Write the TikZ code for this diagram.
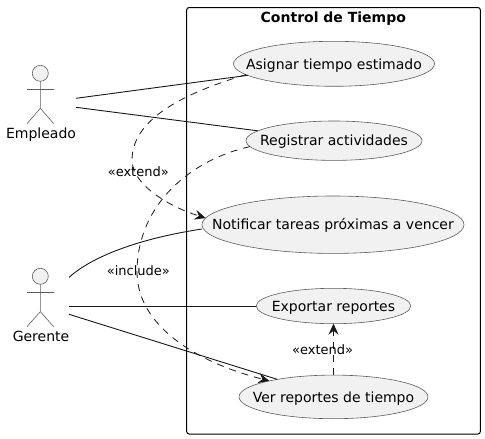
\documentclass[tikz,border=0pt]{standalone}
\usepackage{fontspec}
\setmainfont{DejaVu Sans}
\usetikzlibrary{shapes.geometric,arrows.meta}
\definecolor{ink}{HTML}{181818}
\definecolor{pale}{HTML}{F1F1F1}
\newcommand{\ectext}[1]{\makebox[0pt]{#1}}
\tikzset{
  usecase/.style={ellipse,draw=ink!70,fill=pale,line width=0.6pt,inner sep=0pt,outer sep=0pt,
    text=black,font=\fontsize{14}{16}\selectfont,text height=13.5pt,text depth=3pt},
  sysframe/.style={rectangle,draw=black,line width=1pt,rounded corners=2.5pt,inner sep=0pt,outer sep=0pt},
  actorhead/.style={circle,draw=ink!70,fill=pale,line width=0.6pt,minimum size=16pt,inner sep=0pt,outer sep=0pt},
  actorbody/.style={draw=ink!70,line width=0.6pt},
  actorname/.style={font=\fontsize{14}{16}\selectfont,inner sep=0pt,anchor=base},
  assoc/.style={draw=ink,line width=0.9pt},
  dep/.style={draw=ink,line width=0.8pt,dash pattern=on 7pt off 6pt},
  deptip/.style={-{Stealth[length=11pt,width=10pt,inset=4pt]}},
  deplabel/.style={font=\fontsize{13}{15}\selectfont,inner sep=0pt,anchor=base},
  titletext/.style={font=\bfseries\fontsize{14}{16}\selectfont,inner sep=0pt,anchor=base}
}
\begin{document}
\begin{tikzpicture}[x=1pt,y=-1pt]
\useasboundingbox (0,0) rectangle (485,439);
% system frame
\node[sysframe,minimum width=293.7pt,minimum height=426.5pt] (frame) at (333.5,220.75) {};
\node[titletext] (title) at (333.3,22.7) {Control de Tiempo};
% use cases
\node[usecase,minimum width=201pt,minimum height=45pt] (asignar) at (334,63.8) {\ectext{Asignar tiempo estimado}};
\node[usecase,minimum width=176pt,minimum height=39.4pt] (registrar) at (334,140.7) {\ectext{Registrar actividades}};
\node[usecase,minimum width=262pt,minimum height=57.4pt] (notificar) at (333,224.7) {\ectext{Notificar tareas próximas a vencer}};
\node[usecase,minimum width=154.6pt,minimum height=35.4pt] (exportar) at (333.5,306) {\ectext{Exportar reportes}};
\node[usecase,minimum width=189pt,minimum height=43.6pt] (ver) at (333.5,396.9) {\ectext{Ver reportes de tiempo}};
% actor Empleado
\node[actorhead] (emphead) at (40.3,73.3) {};
\coordinate (emphip) at (40.3,108.3);
\draw[actorbody] (emphead.south) -- (emphip) -- (27,123.7);
\draw[actorbody] (emphip) -- (53.7,123.7);
\draw[actorbody] (27,89.3) -- (53.7,89.3);
\node[actorname] (empname) at (41,138) {Empleado};
% actor Gerente
\node[actorhead] (gerhead) at (40.3,276.3) {};
\coordinate (gerhip) at (40.3,311.7);
\draw[actorbody] (gerhead.south) -- (gerhip) -- (27,326.7);
\draw[actorbody] (gerhip) -- (53.7,326.7);
\draw[actorbody] (27,292) -- (53.7,292);
\node[actorname] (gername) at (41,341) {Gerente};
% free ends at the actors
\coordinate (empA) at (76,98.3);
\coordinate (empB) at (76,107.3);
\coordinate (gerA) at (69,277.4);
\coordinate (gerB) at (69,306);
\coordinate (gerC) at (69,314.3);
% associations
\draw[assoc] (empA) -- (asignar);
\draw[assoc] (empB) -- (registrar);
\draw[assoc] (gerA) .. controls (88,260) and (130,240) .. (notificar.west |- 0,229);
\draw[assoc] (gerB) -- (exportar);
\draw[assoc] (gerC) -- (ver);
% dependencies
\draw[dep,deptip] (asignar.187) .. controls (195,90) and (132,115) .. (132,160)
  .. controls (132,185) and (170,207) .. (notificar.177);
\draw[dep,deptip] (registrar.184) .. controls (190,160) and (137,205) .. (137,272)
  .. controls (137,325) and (195,362) .. (ver.166.5);
\draw[dep,deptip] (ver.north) -- (exportar.south);
% labels
\node[deplabel] (lblext) at (138.3,176) {«extend»};
\node[deplabel] (lblinc) at (138.3,275) {«include»};
\node[deplabel] (lblexttwo) at (322.7,354) {«extend»};
\end{tikzpicture}
\end{document}
